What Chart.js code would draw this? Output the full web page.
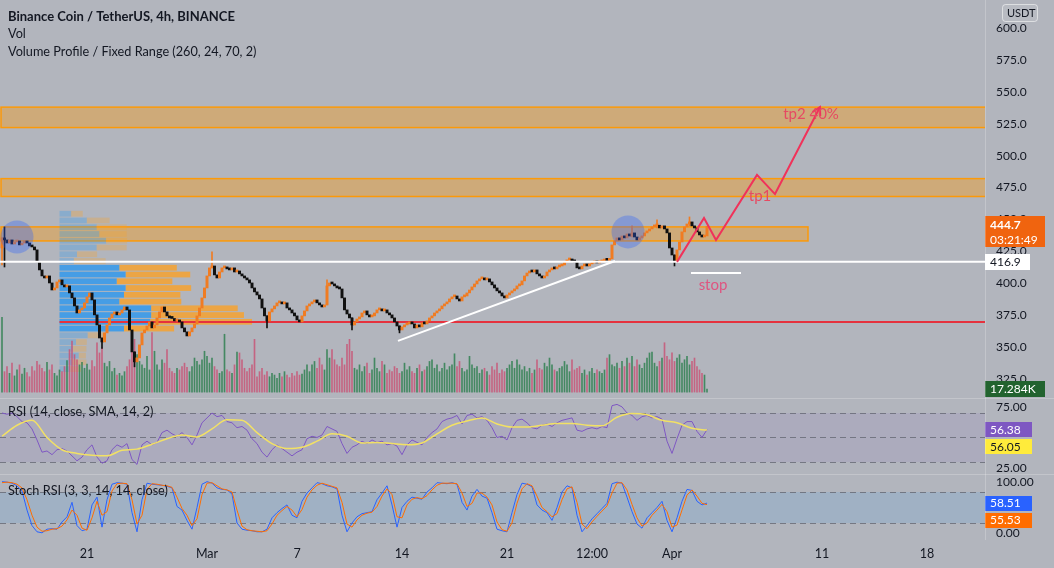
<!DOCTYPE html>
<html>
<head>
<meta charset="utf-8">
<title>BNBUSDT 4h</title>
<script src="https://cdn.jsdelivr.net/npm/chart.js@4.4.1/dist/chart.umd.min.js"></script>
<style>
  html, body { margin: 0; padding: 0; background: #b2b5bd; }
  #wrap { position: relative; width: 1054px; height: 568px; overflow: hidden; background: #b2b5bd; }
  #wrap canvas { position: absolute; left: 0; }
  .sep { position: absolute; background: rgba(255,255,255,0.22); }
</style>
</head>
<body>
<div id="wrap">
  <canvas id="priceChart" width="1054" height="398" style="top:0"></canvas>
  <canvas id="rsiChart" width="1054" height="76" style="top:398px"></canvas>
  <canvas id="stochChart" width="1054" height="94" style="top:474px"></canvas>
  <div class="sep" style="left:0;top:398px;width:1054px;height:1px"></div>
  <div class="sep" style="left:0;top:474px;width:1054px;height:1px"></div>
  <div class="sep" style="left:985px;top:0;width:1px;height:540px"></div>
</div>
<script>
// bar 0 = 15 Feb 08:00, one bar = 4h
const closes = [
  435.6, 434.0, 431.6, 434.0, 430.8, 432.4, 433.2, 430.1, 431.6, 433.2,
  431.6, 429.3, 428.5, 426.2, 416.8, 410.5, 405.8, 404.2, 405.8, 400.3,
  394.8, 396.4, 401.1, 402.7, 398.8, 397.2, 398.0, 392.5, 388.6, 382.3,
  376.8, 379.2, 380.7, 384.7, 389.4, 392.5, 387.0, 375.3, 367.4, 357.2,
  354.1, 361.2, 367.4, 372.9, 376.0, 377.6, 375.3, 376.8, 379.2, 381.5,
  379.2, 363.5, 346.3, 338.5, 341.6, 351.8, 361.2, 363.5, 366.6, 369.8,
  365.1, 367.4, 372.9, 377.6, 381.5, 377.6, 374.5, 372.9, 372.5, 370.6,
  371.3, 369.8, 365.1, 362.0, 358.8, 362.0, 365.1, 368.2, 374.5, 380.7,
  388.6, 396.4, 405.8, 412.1, 413.6, 406.6, 404.2, 408.9, 412.1, 412.8,
  411.3, 410.5, 412.1, 408.9, 409.7, 407.4, 405.8, 404.2, 402.7, 400.3,
  396.4, 393.3, 390.9, 387.8, 380.7, 374.5, 370.6, 377.6, 380.0, 382.3,
  384.7, 385.4, 383.9, 384.7, 380.7, 379.2, 376.8, 374.5, 371.3, 369.8,
  374.5, 378.4, 382.3, 383.9, 385.4, 387.0, 384.7, 383.1, 381.5, 383.1,
  398.0, 400.3, 399.5, 398.0, 396.4, 395.6, 388.6, 379.2, 376.0, 372.9,
  367.4, 369.8, 372.1, 373.7, 376.8, 378.4, 375.3, 373.7, 374.5, 376.8,
  379.2, 380.0, 378.4, 379.2, 376.8, 375.3, 372.9, 369.8, 366.6, 363.5,
  365.9, 367.4, 368.2, 369.8, 368.2, 365.1, 367.4, 365.9, 369.0, 368.2,
  370.6, 372.9, 374.5, 376.8, 378.4, 380.0, 382.3, 383.9, 385.4, 387.8,
  389.4, 390.1, 387.8, 386.2, 389.4, 390.1, 392.5, 394.8, 397.2, 399.5,
  401.9, 403.5, 404.2, 402.7, 403.5, 401.1, 398.8, 396.4, 394.1, 392.5,
  390.1, 388.6, 390.9, 392.5, 394.1, 395.6, 398.0, 398.8, 401.9, 405.8,
  408.1, 409.7, 408.9, 410.5, 407.4, 405.8, 404.2, 405.8, 408.9, 410.5,
  412.1, 411.3, 412.8, 413.6, 414.4, 416.8, 418.3, 419.1, 417.5, 416.8,
  412.1, 411.3, 413.6, 414.4, 413.6, 415.2, 416.0, 416.8, 416.0, 416.8,
  417.5, 418.3, 418.0, 419.1, 430.1, 433.2, 435.6, 434.0, 437.1, 435.6,
  438.7, 437.1, 439.5, 436.3, 434.0, 435.6, 437.1, 439.5, 441.0, 442.6,
  444.2, 445.0, 445.5, 443.4, 445.0, 442.6, 439.5, 427.7, 422.2, 416.8,
  426.2, 432.4, 440.3, 444.2, 446.5, 448.1, 445.0, 443.4, 440.3, 437.9,
  436.3, 437.1, 444.7
];
const firstOpen = 427.7;
// only the longer wicks: bar -> [low, high]
const wicks = {
  0: [414.4, 435.6], 1: [412.8, 444.2], 40: [349.0, 357.2], 53: [334.6, 346.3],
  84: [412.0, 424.6], 106: [365.1, 374.5], 130: [383.1, 402.7], 140: [363.5, 372.9],
  159: [361.2, 366.6], 252: [436.3, 445.0], 262: [443.4, 449.7], 269: [413.6, 422.2],
  275: [445.0, 452.0]
};
// volume in K
const volumes = [
  440, 120, 150, 110, 170, 95, 130, 160, 105, 140,
  115, 90, 150, 125, 180, 160, 140, 120, 175, 130,
  160, 110, 95, 130, 120, 150, 185, 250, 300, 220,
  190, 160, 175, 140, 165, 130, 185, 150, 290, 230,
  260, 170, 150, 180, 120, 140, 100, 110, 95, 120,
  150, 190, 260, 310, 220, 180, 160, 140, 210, 130,
  350, 240, 160, 130, 190, 170, 250, 140, 120, 110,
  140, 130, 150, 170, 145, 120, 150, 200, 180, 160,
  190, 240, 210, 170, 200, 150, 130, 110, 120, 340,
  130, 120, 110, 160, 235, 230, 190, 140, 120, 140,
  160, 310, 90, 120, 140, 100, 120, 90, 110, 100,
  80, 110, 90, 120, 100, 85, 110, 95, 120, 100,
  105, 130, 160, 120, 160, 180, 140, 200, 160, 130,
  250, 200, 250, 190, 160, 150, 200, 160, 280, 310,
  240, 140, 130, 160, 120, 150, 170, 110, 130, 200,
  140, 120, 180, 160, 110, 130, 120, 150, 140, 110,
  120, 170, 130, 150, 120, 110, 140, 160, 120, 130,
  150, 180, 190, 140, 160, 120, 140, 170, 130, 150,
  160, 225, 150, 180, 140, 120, 130, 210, 160, 140,
  150, 110, 130, 140, 120, 100, 150, 130, 170, 110,
  130, 120, 140, 160, 180, 140, 190, 160, 130, 150,
  120, 140, 110, 130, 190, 140, 130, 170, 150, 200,
  160, 130, 120, 140, 150, 180, 160, 120, 190, 130,
  140, 150, 110, 130, 100, 120, 140, 110, 130, 120,
  110, 130, 200, 220, 160, 150, 170, 140, 180, 150,
  200, 170, 210, 150, 190, 160, 140, 170, 200, 230,
  235, 170, 150, 180, 200, 290, 210, 190, 230, 180,
  200, 220, 170, 190, 210, 160, 180, 200, 150, 130,
  110, 100, 17.284
];

// oscillators, one value every 2 bars
const oscStep = 2;
const rsiValues = [
  70, 69, 70, 67, 63, 62, 57, 48, 38, 39,
  36, 40, 41, 39, 35, 31, 34, 40, 44, 34,
  29, 31, 40, 44, 42, 45, 32, 28, 44, 47,
  44, 46, 54, 56, 53, 51, 54, 50, 44, 52,
  62, 66, 70, 67, 68, 63, 62, 58, 59, 56,
  49, 45, 38, 34, 40, 44, 41, 38, 35, 38,
  40, 49, 51, 50, 52, 59, 57, 55, 45, 37,
  42, 44, 47, 45, 48, 46, 47, 44, 45, 43,
  36, 44, 48, 46, 44, 50, 54, 57, 63, 65,
  66, 68, 61, 68, 69, 66, 67, 64, 58, 50,
  51, 48, 58, 64, 65, 62, 58, 57, 60, 61,
  59, 62, 64, 65, 66, 56, 55, 57, 58, 57,
  59, 58, 76, 77, 75, 70, 68, 64, 67, 68,
  66, 67, 65, 47, 37, 49, 60, 63, 63, 55,
  50, 56.38
];
// RSI moving average, one value every 6 bars
const maStep = 6;
const rsiMa = [
  51, 60, 64, 50, 40, 37, 35.5, 35, 39.5, 40.5,
  44.5, 49, 52, 50.5, 57, 64.5, 64, 54, 45, 41,
  42, 47, 53, 51, 45.5, 46, 45, 44, 45.5, 53,
  60, 63.5, 66, 61, 58.5, 58.5, 60, 61.5, 61.5, 60,
  59.5, 66.5, 69.5, 68.5, 64, 62, 57.5, 56.05
];
const stochK = [
  100, 99, 97, 92, 82, 45, 15, 3, 1, 8,
  9, 8, 22, 32, 60, 15, 5, 8, 55, 70,
  12, 65, 95, 98, 97, 95, 40, 3, 65, 97,
  95, 94, 93, 91, 88, 52, 45, 25, 8, 50,
  95, 100, 97, 88, 85, 84, 76, 20, 8, 6,
  5, 3, 3, 8, 30, 40, 48, 55, 35, 30,
  62, 78, 88, 98, 96, 92, 90, 86, 35, 3,
  20, 32, 38, 40, 42, 65, 78, 92, 55, 12,
  50, 62, 70, 68, 66, 80, 88, 98, 97, 96,
  98, 95, 60, 45, 72, 85, 72, 68, 40, 8,
  5, 3, 40, 75, 97, 95, 90, 55, 45, 40,
  25, 50, 80, 92, 88, 35, 3, 15, 28, 38,
  48, 58, 96, 99, 97, 70, 42, 18, 10, 30,
  40, 50, 62, 25, 3, 30, 62, 85, 83, 62,
  55, 58.51
];
const stochD = [
  98, 99, 98, 95, 88, 65, 35, 12, 4, 5,
  8, 9, 14, 26, 45, 35, 10, 6, 30, 62,
  35, 42, 82, 96, 97, 96, 65, 18, 35, 85,
  96, 95, 93, 92, 89, 70, 48, 35, 15, 28,
  75, 97, 98, 92, 86, 84, 80, 45, 14, 7,
  5, 4, 3, 5, 18, 35, 44, 52, 45, 32,
  46, 70, 84, 93, 97, 94, 91, 88, 60, 18,
  12, 26, 35, 39, 41, 52, 72, 86, 75, 32,
  30, 55, 66, 69, 67, 73, 84, 93, 97, 97,
  97, 96, 78, 52, 58, 78, 78, 70, 55, 22,
  7, 4, 20, 58, 86, 96, 92, 72, 50, 42,
  32, 38, 65, 86, 90, 60, 18, 9, 22, 33,
  43, 53, 78, 97, 98, 84, 56, 30, 14, 20,
  35, 45, 56, 42, 12, 16, 45, 74, 84, 72,
  58, 55.53
];

// fixed range volume profile, 24 rows from the bottom, in M
const vpUp = [0.24, 0.28, 0.43, 0.30, 0.37, 0.63, 1.44, 2.03, 2.05, 2.05, 1.34, 1.44,
              1.48, 1.28, 1.48, 1.34, 0.32, 0.39, 0.83, 1.04, 0.89, 0.83, 0.61, 0.26];
const vpDown = [0.24, 0.32, 0.16, 0.30, 0.24, 0.41, 1.12, 2.27, 2.07, 1.93, 1.38, 1.26,
                1.46, 1.24, 1.44, 1.28, 0.71, 0.45, 0.67, 0.47, 0.61, 0.67, 0.51, 0.26];
const vpStartBar = 23;
const vpLow = 330.2;
const vpRow = 5.29;
const vpValueArea = [6, 15];

// drawings
const pocPrice = 369.8;
const supportPrice = 416.9;
const zones = [
  { lo: 522.0, hi: 538.0, from: -0.4, to: 400 },
  { lo: 468.0, hi: 482.0, from: -0.4, to: 400 },
  { lo: 433.2, hi: 444.2, from: -0.4, to: 322.4 }
];
const trendLine = [[158.4, 354.9], [245.2, 417.5]];
const stopLine = [[275.6, 408.1], [295.6, 408.1]];
const planPath = [[270, 416.8], [280.8, 451.2], [285.6, 434.0], [302, 484.9], [309.2, 469.9], [327.2, 538.1]];
const circles = [[6, 436.3], [250.4, 440.3]];
const notes = [
  { text: 'tp1', bar: 303.2, price: 468.4, color: '#e64a62' },
  { text: 'tp2 40%', bar: 323.6, price: 532.7, color: '#e64a62' },
  { text: 'stop', bar: 284.4, price: 398.7, color: '#de5580' }
];
const countdown = '03:21:49';

// axes
const priceTicks = [325, 350, 375, 400, 425, 450, 475, 500, 525, 550, 575, 600];
const rsiTicks = [75, 25];
const stochTicks = [100, 0];
const rsiLevels = [70, 50, 30];
const stochLevels = [80, 20];
const timeTickBars = [34, 82, 118, 160, 202, 236, 268, 328, 370];
const timeTickLabels = ['21', 'Mar', '7', '14', '21', '12:00', 'Apr', '11', '18'];

const FONT = 'Lato, "Open Sans", sans-serif';
const TEXT = '#131722';
const AXIS_W = 69;
const xMin = -0.8, xMax = 393.2;

Chart.defaults.font.family = FONT;
Chart.defaults.color = TEXT;

const opens = closes.map((c, i) => i === 0 ? firstOpen : closes[i - 1]);
const upColor = '#f07c22', downColor = '#111111';
const candleColors = closes.map((c, i) => c >= opens[i] ? upColor : downColor);
const volColors = closes.map((c, i) => c >= opens[i] ? 'rgba(40,125,75,0.8)' : 'rgba(200,80,115,0.8)');
const wickBars = Object.keys(wicks).map(Number);

function rightAxis(min, max, ticks, digits) {
  return {
    type: 'linear', position: 'right', min: min, max: max,
    afterFit(s) { s.width = AXIS_W; s.paddingTop = 0; s.paddingBottom = 0; },
    afterBuildTicks(s) { s.ticks = ticks.map(v => ({ value: v })); },
    ticks: { callback: v => Number(v).toFixed(digits), color: TEXT, font: { size: 12 }, padding: 11 },
    grid: { display: false, drawTicks: false },
    border: { display: false }
  };
}

function hiddenX() {
  return { type: 'linear', min: xMin, max: xMax, display: false, offset: false, grid: { offset: false } };
}

function drawTag(ctx, x, yMid, w, h, bg, text, fg, bold) {
  ctx.fillStyle = bg;
  ctx.fillRect(x, Math.round(yMid - h / 2), w, h);
  ctx.fillStyle = fg;
  ctx.font = (bold ? 'bold ' : '') + '12px ' + FONT;
  ctx.textAlign = 'left';
  ctx.textBaseline = 'middle';
  ctx.fillText(text, x + 5, yMid + 0.5);
}

function line(points, color, width, order) {
  return {
    type: 'line', data: points.map(p => ({ x: p[0], y: p[1] })),
    borderColor: color, borderWidth: width, pointRadius: 0, fill: false,
    xAxisID: 'x', yAxisID: 'y', order: order
  };
}

const priceDecor = {
  id: 'priceDecor',
  beforeDatasetsDraw(chart) {
    const { ctx, chartArea: a, scales: { x, y, xvp } } = chart;
    ctx.save();
    ctx.beginPath();
    ctx.rect(a.left, a.top, a.width, a.height);
    ctx.clip();
    zones.forEach(z => {
      const x1 = x.getPixelForValue(z.from), x2 = x.getPixelForValue(z.to);
      const y1 = y.getPixelForValue(z.hi), y2 = y.getPixelForValue(z.lo);
      ctx.fillStyle = 'rgba(255,152,0,0.36)';
      ctx.fillRect(x1, y1, x2 - x1, y2 - y1);
      ctx.strokeStyle = 'rgba(255,152,0,0.95)';
      ctx.lineWidth = 1.5;
      ctx.strokeRect(x1, y1, x2 - x1, y2 - y1);
    });
    const left = x.getPixelForValue(vpStartBar);
    const zero = xvp.getPixelForValue(0);
    vpUp.forEach((up, r) => {
      const inside = r >= vpValueArea[0] && r <= vpValueArea[1];
      const top = y.getPixelForValue(vpLow + (r + 1) * vpRow) + 0.5;
      const bot = y.getPixelForValue(vpLow + r * vpRow) - 0.5;
      const wUp = xvp.getPixelForValue(up) - zero;
      const wDn = xvp.getPixelForValue(vpDown[r]) - zero;
      ctx.fillStyle = inside ? 'rgba(33,150,243,0.75)' : 'rgba(33,150,243,0.28)';
      ctx.fillRect(left, top, wUp, bot - top);
      ctx.fillStyle = inside ? 'rgba(255,160,30,0.75)' : 'rgba(255,160,30,0.28)';
      ctx.fillRect(left + wUp, top, wDn, bot - top);
    });
    ctx.restore();
  },
  afterDatasetsDraw(chart) {
    const { ctx, scales: { x, y } } = chart;
    ctx.save();
    // arrow head on the plan path
    const n = planPath.length;
    const px = x.getPixelForValue(planPath[n - 1][0]), py = y.getPixelForValue(planPath[n - 1][1]);
    const qx = x.getPixelForValue(planPath[n - 2][0]), qy = y.getPixelForValue(planPath[n - 2][1]);
    const ang = Math.atan2(py - qy, px - qx);
    ctx.strokeStyle = '#f0325a';
    ctx.lineWidth = 2;
    ctx.beginPath();
    ctx.moveTo(px - 9 * Math.cos(ang - 0.5), py - 9 * Math.sin(ang - 0.5));
    ctx.lineTo(px, py);
    ctx.lineTo(px - 9 * Math.cos(ang + 0.5), py - 9 * Math.sin(ang + 0.5));
    ctx.stroke();
    ctx.font = '15px ' + FONT;
    ctx.textAlign = 'center';
    ctx.textBaseline = 'middle';
    notes.forEach(t => {
      ctx.fillStyle = t.color;
      ctx.fillText(t.text, x.getPixelForValue(t.bar), y.getPixelForValue(t.price));
    });
    ctx.restore();
  },
  afterDraw(chart) {
    const { ctx, chartArea: a, scales: { y, yv } } = chart;
    ctx.save();
    ctx.fillStyle = TEXT;
    ctx.textAlign = 'left';
    ctx.textBaseline = 'alphabetic';
    ctx.font = 'bold 13px ' + FONT;
    ctx.fillText('Binance Coin / TetherUS, 4h, BINANCE', 8, 20.5);
    ctx.font = '12.7px ' + FONT;
    ctx.fillText('Vol', 8, 38);
    ctx.fillText('Volume Profile / Fixed Range (260, 24, 70, 2)', 8, 56);

    // USDT currency box
    ctx.fillStyle = '#b8bbc2';
    ctx.strokeStyle = 'rgba(255,255,255,0.55)';
    ctx.lineWidth = 1;
    ctx.beginPath();
    ctx.roundRect(1002.5, 4.5, 35, 17, 3);
    ctx.fill();
    ctx.stroke();
    ctx.fillStyle = TEXT;
    ctx.font = '11px ' + FONT;
    ctx.textBaseline = 'middle';
    ctx.fillText('USDT', 1007, 13.5);

    const ax = a.right;
    const last = closes[closes.length - 1];
    const yl = y.getPixelForValue(last);
    ctx.fillStyle = '#f0640f';
    ctx.fillRect(ax, Math.round(yl - 10), 60, 31);
    ctx.fillStyle = '#ffffff';
    ctx.font = 'bold 12px ' + FONT;
    ctx.fillText(last.toFixed(1), ax + 5, yl - 1);
    ctx.font = '12px ' + FONT;
    ctx.fillText(countdown, ax + 5, yl + 14);

    drawTag(ctx, ax, y.getPixelForValue(supportPrice), 45, 16, '#ffffff', supportPrice.toFixed(1), TEXT, false);
    const lastVol = volumes[volumes.length - 1];
    drawTag(ctx, ax, yv.getPixelForValue(lastVol), 60, 16, '#22632f', lastVol.toFixed(3) + 'K', '#ffffff', false);
    ctx.restore();
  }
};

const baseOptions = {
  responsive: false, maintainAspectRatio: false, animation: false, events: [],
  layout: { padding: 0, autoPadding: false },
  plugins: { legend: { display: false }, tooltip: { enabled: false } }
};

new Chart(document.getElementById('priceChart'), {
  type: 'bar',
  data: {
    datasets: [
      {
        type: 'bar', data: volumes.map((v, i) => ({ x: i, y: v })),
        backgroundColor: volColors, barThickness: 1, grouped: false,
        xAxisID: 'x', yAxisID: 'yv', order: 10
      },
      line([[vpStartBar, pocPrice], [xMax + 10, pocPrice]], '#e5323e', 2, 9),
      {
        type: 'bar', data: wickBars.map(i => ({ x: i, y: wicks[i] })),
        backgroundColor: wickBars.map(i => candleColors[i]), barThickness: 1, grouped: false,
        xAxisID: 'x', yAxisID: 'y', order: 6
      },
      {
        type: 'bar', data: closes.map((c, i) => ({ x: i, y: [opens[i], c] })),
        backgroundColor: candleColors, barThickness: 2.3, minBarLength: 2, grouped: false,
        xAxisID: 'x', yAxisID: 'y', order: 5
      },
      line([[xMin - 10, supportPrice], [xMax + 10, supportPrice]], '#ffffff', 2, 3),
      line(trendLine, '#ffffff', 2, 3),
      line(stopLine, '#ffffff', 2, 3),
      line(planPath, '#f0325a', 2, 2),
      {
        type: 'scatter', data: circles.map(p => ({ x: p[0], y: p[1] })),
        pointRadius: 16.5, pointBackgroundColor: 'rgba(41,98,255,0.33)', pointBorderWidth: 0,
        xAxisID: 'x', yAxisID: 'y', order: 1
      }
    ]
  },
  options: Object.assign({}, baseOptions, {
    scales: {
      x: hiddenX(),
      xvp: { type: 'linear', axis: 'x', position: 'bottom', min: 0, max: 20, display: false },
      y: rightAxis(310.2, 621.9, priceTicks, 1),
      yv: { type: 'linear', position: 'left', min: -35, max: 2306, display: false }
    }
  }),
  plugins: [priceDecor]
});

function oscDecor(id, band, levels, bandColor, title, titleY, tags) {
  return {
    id: id,
    beforeDatasetsDraw(chart) {
      const { ctx, chartArea: a, scales: { y } } = chart;
      ctx.save();
      const y1 = y.getPixelForValue(band[0]), y2 = y.getPixelForValue(band[1]);
      ctx.fillStyle = bandColor;
      ctx.fillRect(a.left, y1, a.width, y2 - y1);
      ctx.strokeStyle = 'rgba(110,113,124,0.9)';
      ctx.lineWidth = 1;
      ctx.setLineDash([6, 4]);
      levels.forEach(v => {
        const yy = Math.round(y.getPixelForValue(v)) + 0.5;
        ctx.beginPath();
        ctx.moveTo(a.left, yy);
        ctx.lineTo(a.right, yy);
        ctx.stroke();
      });
      ctx.restore();
    },
    afterDraw(chart) {
      const { ctx, chartArea: a, scales: { y } } = chart;
      ctx.save();
      ctx.fillStyle = TEXT;
      ctx.font = '12.7px ' + FONT;
      ctx.textAlign = 'left';
      ctx.textBaseline = 'alphabetic';
      ctx.fillText(title, 8, a.top + titleY);
      let prev = null;
      tags.forEach(t => {
        let yy = y.getPixelForValue(t.value);
        if (prev !== null && Math.abs(yy - prev) < 17) yy = prev + 17;
        drawTag(ctx, a.right, yy, 47, 15, t.bg, t.value.toFixed(2), t.fg, false);
        prev = yy;
      });
      ctx.restore();
    }
  };
}

function oscLine(values, step, color, width, smooth) {
  return {
    type: 'line', data: values.map((v, k) => ({ x: k * step, y: v })),
    borderColor: color, borderWidth: width, pointRadius: 0, fill: false,
    cubicInterpolationMode: smooth ? 'monotone' : 'default', tension: 0
  };
}

new Chart(document.getElementById('rsiChart'), {
  type: 'line',
  data: {
    datasets: [
      oscLine(rsiMa, maStep, 'rgba(245,228,95,0.95)', 1.5, true),
      oscLine(rsiValues, oscStep, '#7e57c2', 1, false)
    ]
  },
  options: Object.assign({}, baseOptions, {
    scales: { x: hiddenX(), y: rightAxis(20.2, 82.24, rsiTicks, 2) }
  }),
  plugins: [oscDecor('rsiDecor', [70, 30], rsiLevels, 'rgba(126,87,194,0.10)', 'RSI (14, close, SMA, 14, 2)', 17.5, [
    { value: rsiValues[rsiValues.length - 1], bg: '#7e57c2', fg: '#ffffff' },
    { value: rsiMa[rsiMa.length - 1], bg: '#ffeb3b', fg: TEXT }
  ])]
});

const stochX = hiddenX();
stochX.display = true;
stochX.position = 'bottom';
stochX.afterFit = s => { s.height = 28; s.paddingLeft = 0; s.paddingRight = 0; };
stochX.afterBuildTicks = s => { s.ticks = timeTickBars.map(v => ({ value: v })); };
stochX.ticks = { autoSkip: false, maxRotation: 0, padding: 6, color: TEXT, font: { size: 12.5 },
                 callback: (v, i) => timeTickLabels[i] };
stochX.grid = { display: false, drawTicks: false };
stochX.border = { display: false };

new Chart(document.getElementById('stochChart'), {
  type: 'line',
  data: {
    datasets: [
      oscLine(stochD, oscStep, '#ff6d00', 1, false),
      oscLine(stochK, oscStep, '#2962ff', 1, false)
    ]
  },
  options: Object.assign({}, baseOptions, {
    scales: { x: stochX, y: rightAxis(-12.9, 114.8, stochTicks, 2) }
  }),
  plugins: [oscDecor('stochDecor', [80, 20], stochLevels, 'rgba(33,150,243,0.12)', 'Stoch RSI (3, 3, 14, 14, close)', 20.5, [
    { value: stochK[stochK.length - 1], bg: '#2962ff', fg: '#ffffff' },
    { value: stochD[stochD.length - 1], bg: '#ff6d00', fg: '#ffffff' }
  ])]
});
</script>
</body>
</html>
